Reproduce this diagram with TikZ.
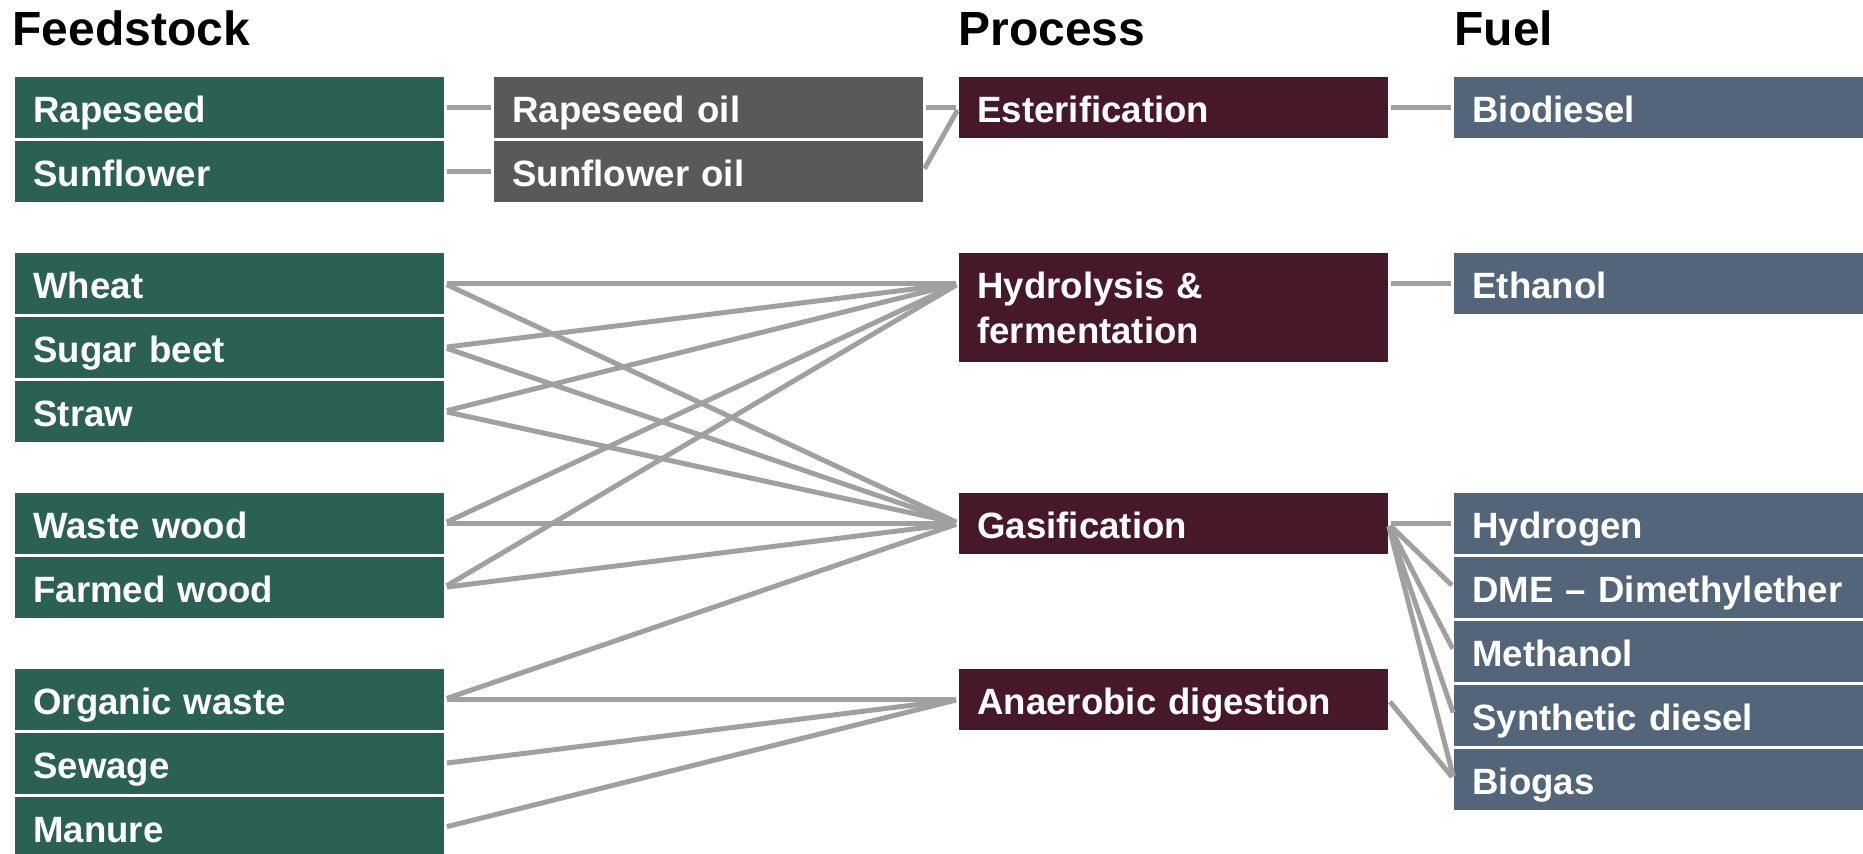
\documentclass[tikz,border=0pt]{standalone}
\usepackage{fontspec}
\setmainfont{Liberation Sans}
\usetikzlibrary{positioning}
\definecolor{feedgreen}{RGB}{43,96,85}
\definecolor{oilgray}{RGB}{89,89,89}
\definecolor{procred}{RGB}{70,24,42}
\definecolor{fuelblue}{RGB}{83,101,120}
\definecolor{linkgray}{RGB}{160,160,160}

\begin{document}
\begin{tikzpicture}[x=0.5pt, y=-0.5pt,
    box/.style = {rectangle, anchor=north west, inner xsep=9.2pt, inner ysep=0pt, outer sep=0pt, minimum height=30.35pt, text width=196.1pt, align=left, text=white, font=\fontsize{18.3pt}{22.6pt}\selectfont\bfseries, text height=16.6pt, text depth=1pt},
    feed/.style = {box, fill=feedgreen},
    oil/.style = {box, fill=oilgray},
    proc/.style = {box, fill=procred},
    fuel/.style = {box, fill=fuelblue},
    head/.style = {anchor=base west, inner sep=0pt, font=\fontsize{24pt}{28.8pt}\selectfont\bfseries},
    link/.style = {draw=linkgray, line width=2.5pt, shorten <=1.5pt, shorten >=1.5pt}]
    \useasboundingbox (0,0) rectangle (1863,853);

    \node[head] (h_feed) at (12,45) {Feedstock};
    \node[head] (h_proc) at (958,45) {Process};
    \node[head] (h_fuel) at (1454,45) {Fuel};

    \node[feed] (f_rape) at (15,77) {Rapeseed};
    \node[feed] (f_sun) [below=1.65pt of f_rape] {Sunflower};
    \node[feed] (f_wheat) [below=25.65pt of f_sun] {Wheat};
    \node[feed] (f_beet) [below=1.65pt of f_wheat] {Sugar beet};
    \node[feed] (f_straw) [below=1.65pt of f_beet] {Straw};
    \node[feed] (f_waste) [below=25.65pt of f_straw] {Waste wood};
    \node[feed] (f_farm) [below=1.65pt of f_waste] {Farmed wood};
    \node[feed] (f_org) [below=25.65pt of f_farm] {Organic waste};
    \node[feed] (f_sew) [below=1.65pt of f_org] {Sewage};
    \node[feed] (f_man) [below=1.65pt of f_sew] {Manure};

    \node[oil] (o_rape) [right=25pt of f_rape] {Rapeseed oil};
    \node[oil] (o_sun) [below=1.65pt of o_rape] {Sunflower oil};

    \node[proc] (p_ester) [right=18pt of o_rape] {Esterification};
    \node[proc, minimum height=54.5pt, text height=5.6pt, text depth=14.5pt] (p_hydro) at (p_ester.west |- f_wheat.north) {Hydrolysis \&\\fermentation};
    \node[proc] (p_gas) at (p_ester.west |- f_waste.north) {Gasification};
    \node[proc] (p_anae) at (p_ester.west |- f_org.north) {Anaerobic digestion};
    \coordinate (p_hydro_in) at (p_hydro.west |- f_wheat.west);
    \coordinate (p_hydro_out) at (p_hydro.east |- f_wheat.west);

    \node[fuel] (u_bio) [right=33pt of p_ester] {Biodiesel};
    \node[fuel] (u_eth) at (u_bio.west |- f_wheat.north) {Ethanol};
    \node[fuel] (u_hyd) at (u_bio.west |- p_gas.north) {Hydrogen};
    \node[fuel] (u_dme) [below=1.65pt of u_hyd] {DME – Dimethylether};
    \node[fuel] (u_meth) [below=1.65pt of u_dme] {Methanol};
    \node[fuel] (u_syn) [below=1.65pt of u_meth] {Synthetic diesel};
    \node[fuel] (u_gas) [below=1.65pt of u_syn] {Biogas};

    \draw[link] (f_rape.east) -- (o_rape.west);
    \draw[link] (f_sun.east) -- (o_sun.west);
    \draw[link] (o_rape.east) -- (p_ester.west);
    \draw[link] (o_sun.east) -- (p_ester.west);
    \draw[link] (p_ester.east) -- (u_bio.west);

    \draw[link] (f_wheat.east) -- (p_hydro_in);
    \draw[link] (f_beet.east) -- (p_hydro_in);
    \draw[link] (f_straw.east) -- (p_hydro_in);
    \draw[link] (f_waste.east) -- (p_hydro_in);
    \draw[link] (f_farm.east) -- (p_hydro_in);

    \draw[link] (f_wheat.east) -- (p_gas.west);
    \draw[link] (f_beet.east) -- (p_gas.west);
    \draw[link] (f_straw.east) -- (p_gas.west);
    \draw[link] (f_waste.east) -- (p_gas.west);
    \draw[link] (f_farm.east) -- (p_gas.west);
    \draw[link] (f_org.east) -- (p_gas.west);

    \draw[link] (f_org.east) -- (p_anae.west);
    \draw[link] (f_sew.east) -- (p_anae.west);
    \draw[link] (f_man.east) -- (p_anae.west);

    \draw[link] (p_hydro_out) -- (u_eth.west);
    \draw[link] (p_gas.east) -- (u_hyd.west);
    \draw[link] (p_gas.east) -- (u_dme.west);
    \draw[link] (p_gas.east) -- (u_meth.west);
    \draw[link] (p_gas.east) -- (u_syn.west);
    \draw[link] (p_gas.east) -- (u_gas.west);
    \draw[link] (p_anae.east) -- (u_gas.west);
\end{tikzpicture}
\end{document}
